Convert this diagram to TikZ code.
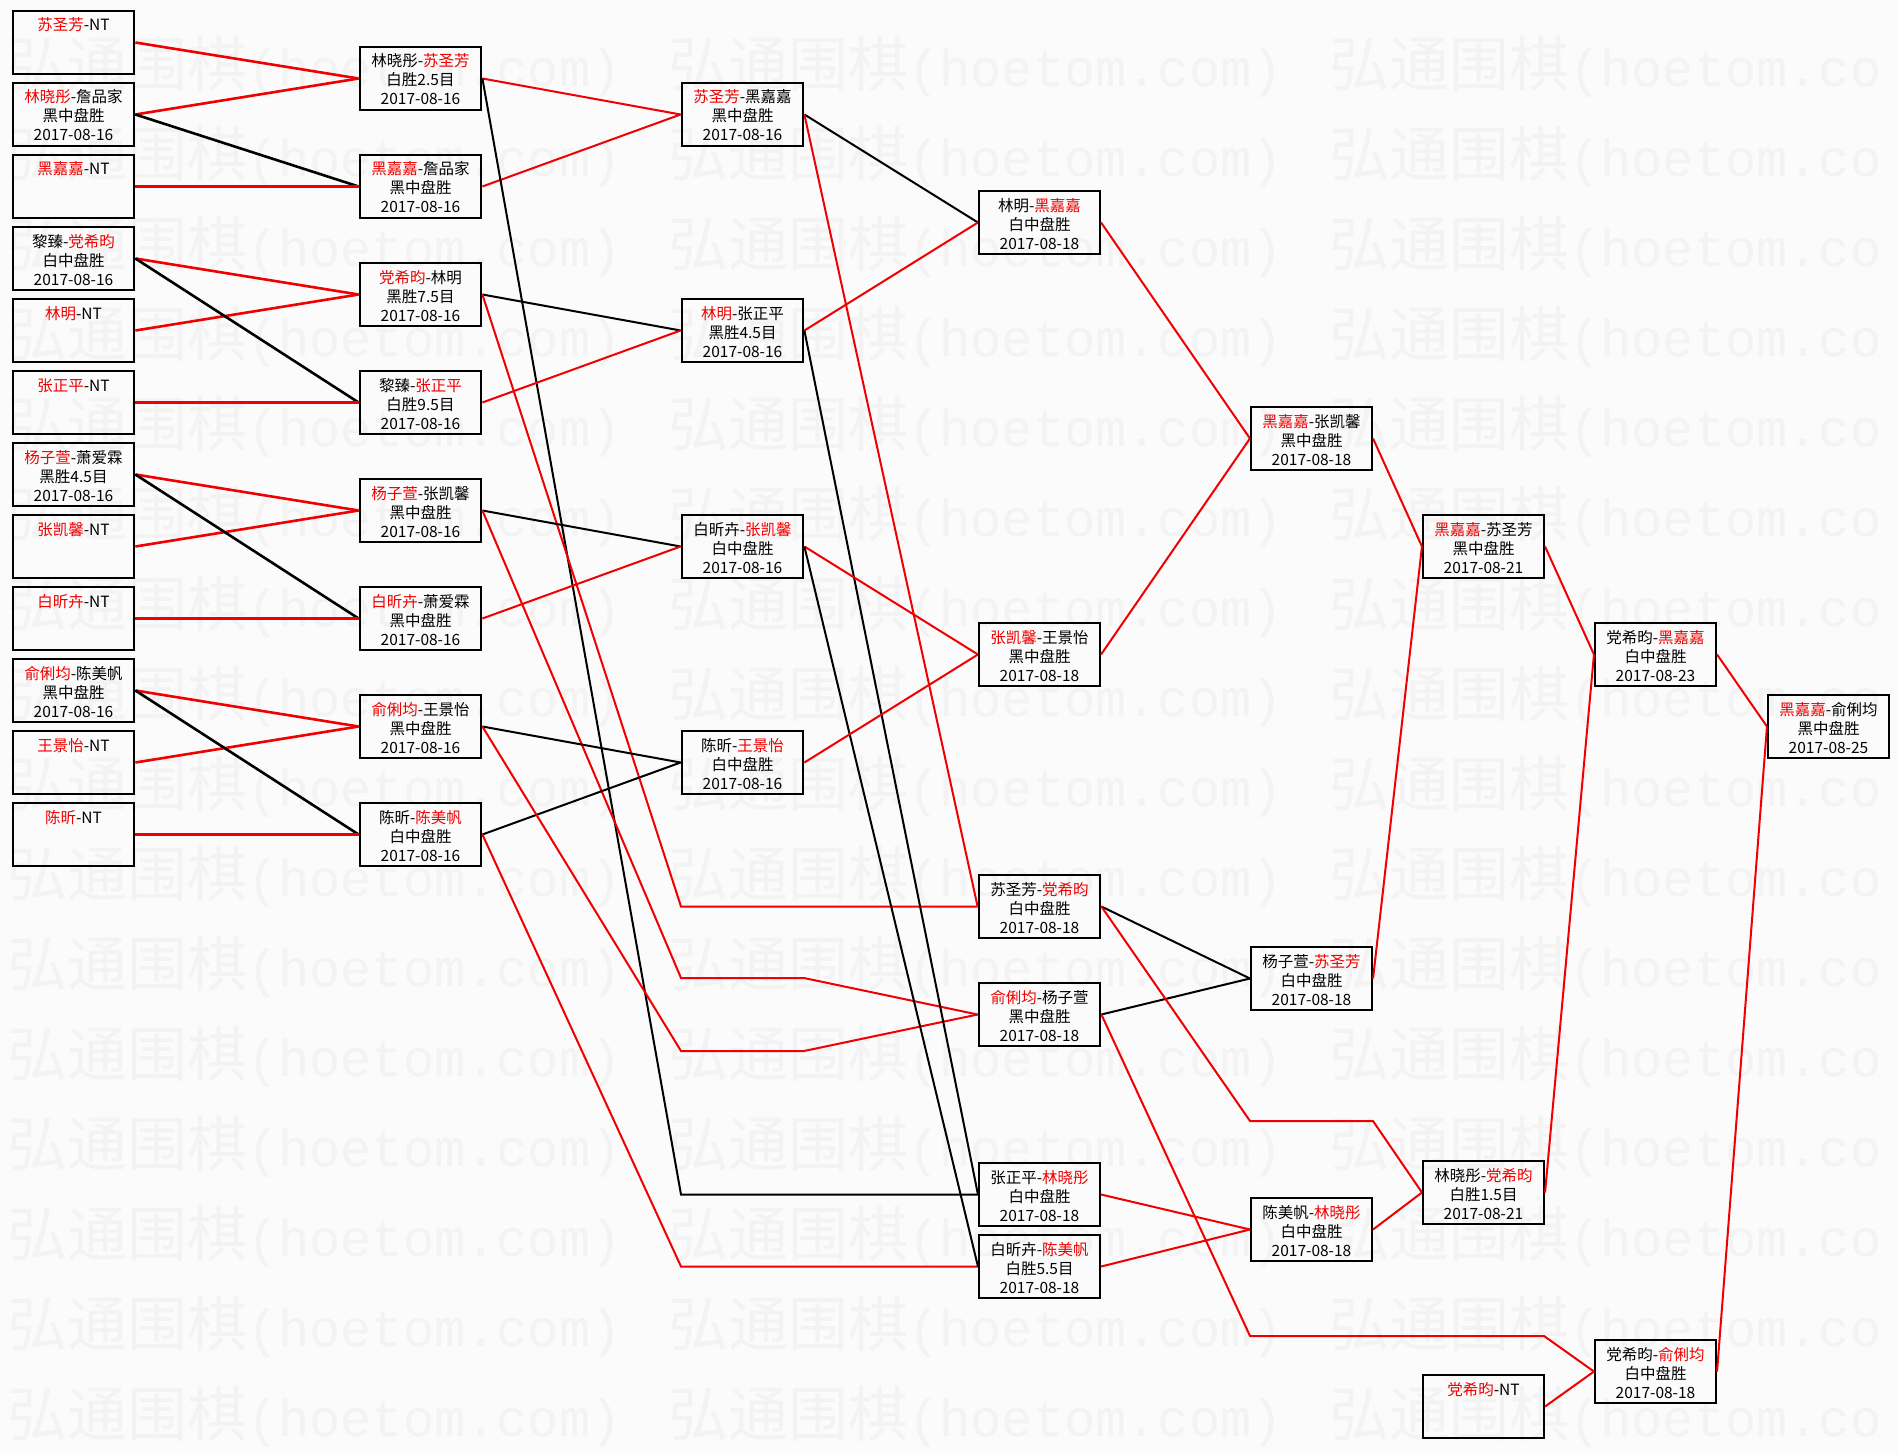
\documentclass[tikz,border=0pt]{standalone}
\usepackage{fontspec}
\setmainfont{Noto Sans CJK SC}
\newfontfamily\wmmono{Liberation Mono}
\definecolor{wred}{RGB}{240,0,0}
\definecolor{wmgray}{RGB}{243,243,243}
\definecolor{bgc}{RGB}{251,251,251}
\newcommand\rn[1]{\textcolor{wred}{#1}}
\newcommand\gm[3]{\parbox[c][63pt][t]{121pt}{\centering\fontsize{15.5}{19}\selectfont\rule{0pt}{20pt}#1\\#2\\#3}}
\newcommand\ntx[1]{\parbox[c][63pt][t]{121pt}{\centering\fontsize{15.5}{19}\selectfont\rule{0pt}{20pt}#1}}
\newcommand\wmtext[1]{{\fontsize{60}{60}\selectfont 弘通围棋}{\wmmono\fontsize{52}{52}\selectfont #1}}
\tikzset{
  boxa/.style={draw=black, line width=2.8pt, rectangle, inner sep=0pt},
  boxb/.style={draw=black, line width=2.1pt, rectangle, inner sep=0pt},
  rl/.style={draw=wred, line width=2pt, line join=miter},
  bl/.style={draw=black, line width=2pt, line join=miter},
  rlt/.style={draw=wred, line width=2.6pt},
  blt/.style={draw=black, line width=2.6pt},
  wmk/.style={text=wmgray, anchor=west, inner sep=0pt}
}
\begin{document}
\begin{tikzpicture}[x=1pt,y=-1pt]
\fill[bgc] (0,0) rectangle (1898,1453);
\useasboundingbox (0,0) rectangle (1898,1453);
% watermark
\foreach \k in {0,...,15}{
  \node[wmk] (wm-\k-0) at (7,{67+90*\k}) {\wmtext{(hoetom.com)}};
  \node[wmk] (wm-\k-1) at (668,{67+90*\k}) {\wmtext{(hoetom.com)}};
  \node[wmk] (wm-\k-2) at (1329,{67+90*\k}) {\wmtext{(hoetom.co}};
}
% column 1
\node[boxa] (c1a) at (73.5,42.5)  {\ntx{\rn{苏圣芳}-NT}};
\node[boxa] (c1b) at (73.5,114.5) {\gm{\rn{林晓彤}-詹品家}{黑中盘胜}{2017-08-16}};
\node[boxa] (c1c) at (73.5,186.5) {\ntx{\rn{黑嘉嘉}-NT}};
\node[boxa] (c1d) at (73.5,258.5) {\gm{黎臻-\rn{党希昀}}{白中盘胜}{2017-08-16}};
\node[boxa] (c1e) at (73.5,330.5) {\ntx{\rn{林明}-NT}};
\node[boxa] (c1f) at (73.5,402.5) {\ntx{\rn{张正平}-NT}};
\node[boxa] (c1g) at (73.5,474.5) {\gm{\rn{杨子萱}-萧爱霖}{黑胜4.5目}{2017-08-16}};
\node[boxa] (c1h) at (73.5,546.5) {\ntx{\rn{张凯馨}-NT}};
\node[boxa] (c1i) at (73.5,618.5) {\ntx{\rn{白昕卉}-NT}};
\node[boxa] (c1j) at (73.5,690.5) {\gm{\rn{俞俐均}-陈美帆}{黑中盘胜}{2017-08-16}};
\node[boxa] (c1k) at (73.5,762.5) {\ntx{\rn{王景怡}-NT}};
\node[boxa] (c1l) at (73.5,834.5) {\ntx{\rn{陈昕}-NT}};
% column 2
\node[boxa] (c2a) at (420.5,78.5)  {\gm{林晓彤-\rn{苏圣芳}}{白胜2.5目}{2017-08-16}};
\node[boxa] (c2b) at (420.5,186.5) {\gm{\rn{黑嘉嘉}-詹品家}{黑中盘胜}{2017-08-16}};
\node[boxa] (c2c) at (420.5,294.5) {\gm{\rn{党希昀}-林明}{黑胜7.5目}{2017-08-16}};
\node[boxa] (c2d) at (420.5,402.5) {\gm{黎臻-\rn{张正平}}{白胜9.5目}{2017-08-16}};
\node[boxa] (c2e) at (420.5,510.5) {\gm{\rn{杨子萱}-张凯馨}{黑中盘胜}{2017-08-16}};
\node[boxa] (c2f) at (420.5,618.5) {\gm{\rn{白昕卉}-萧爱霖}{黑中盘胜}{2017-08-16}};
\node[boxa] (c2g) at (420.5,726.5) {\gm{\rn{俞俐均}-王景怡}{黑中盘胜}{2017-08-16}};
\node[boxa] (c2h) at (420.5,834.5) {\gm{陈昕-\rn{陈美帆}}{白中盘胜}{2017-08-16}};
% column 3
\node[boxa] (c3a) at (742.5,114.5) {\gm{\rn{苏圣芳}-黑嘉嘉}{黑中盘胜}{2017-08-16}};
\node[boxa] (c3b) at (742.5,330.5) {\gm{\rn{林明}-张正平}{黑胜4.5目}{2017-08-16}};
\node[boxa] (c3c) at (742.5,546.5) {\gm{白昕卉-\rn{张凯馨}}{白中盘胜}{2017-08-16}};
\node[boxa] (c3d) at (742.5,762.5) {\gm{陈昕-\rn{王景怡}}{白中盘胜}{2017-08-16}};
% column 4
\node[boxb] (c4a) at (1039.5,222.5)  {\gm{林明-\rn{黑嘉嘉}}{白中盘胜}{2017-08-18}};
\node[boxb] (c4b) at (1039.5,654.5)  {\gm{\rn{张凯馨}-王景怡}{黑中盘胜}{2017-08-18}};
\node[boxa] (c4c) at (1039.5,906.5)  {\gm{苏圣芳-\rn{党希昀}}{白中盘胜}{2017-08-18}};
\node[boxa] (c4d) at (1039.5,1014.5) {\gm{\rn{俞俐均}-杨子萱}{黑中盘胜}{2017-08-18}};
\node[boxb] (c4e) at (1039.5,1194.5) {\gm{张正平-\rn{林晓彤}}{白中盘胜}{2017-08-18}};
\node[boxb] (c4f) at (1039.5,1266.5) {\gm{白昕卉-\rn{陈美帆}}{白胜5.5目}{2017-08-18}};
% column 5
\node[boxb] (c5a) at (1311.5,438.5)  {\gm{\rn{黑嘉嘉}-张凯馨}{黑中盘胜}{2017-08-18}};
\node[boxb] (c5b) at (1311.5,978.5)  {\gm{杨子萱-\rn{苏圣芳}}{白中盘胜}{2017-08-18}};
\node[boxb] (c5c) at (1311.5,1229.5) {\gm{陈美帆-\rn{林晓彤}}{白中盘胜}{2017-08-18}};
% column 6
\node[boxb] (c6a) at (1483.5,546.5)  {\gm{\rn{黑嘉嘉}-苏圣芳}{黑中盘胜}{2017-08-21}};
\node[boxb] (c6b) at (1483.5,1192.5) {\gm{林晓彤-\rn{党希昀}}{白胜1.5目}{2017-08-21}};
\node[boxb] (c6c) at (1483.5,1406.5) {\ntx{\rn{党希昀}-NT}};
% column 7
\node[boxb] (c7a) at (1655.5,654.5)  {\gm{党希昀-\rn{黑嘉嘉}}{白中盘胜}{2017-08-23}};
\node[boxb] (c7b) at (1655.5,1371.5) {\gm{党希昀-\rn{俞俐均}}{白中盘胜}{2017-08-18}};
% column 8
\node[boxb] (c8a) at (1828.5,726.5)  {\gm{\rn{黑嘉嘉}-俞俐均}{黑中盘胜}{2017-08-25}};
% connectors column 1 -> 2
\draw[rlt] (c1a.east) -- (c2a.west);
\draw[rlt] (c1b.east) -- (c2a.west);
\draw[blt] (c1b.east) -- (c2b.west);
\draw[rlt] (c1c.east) -- (c2b.west);
\draw[rlt] (c1d.east) -- (c2c.west);
\draw[rlt] (c1e.east) -- (c2c.west);
\draw[blt] (c1d.east) -- (c2d.west);
\draw[rlt] (c1f.east) -- (c2d.west);
\draw[rlt] (c1g.east) -- (c2e.west);
\draw[rlt] (c1h.east) -- (c2e.west);
\draw[blt] (c1g.east) -- (c2f.west);
\draw[rlt] (c1i.east) -- (c2f.west);
\draw[rlt] (c1j.east) -- (c2g.west);
\draw[rlt] (c1k.east) -- (c2g.west);
\draw[blt] (c1j.east) -- (c2h.west);
\draw[rlt] (c1l.east) -- (c2h.west);
% column 2 -> 3 / 4
\draw[rl] (c2a.east) -- (c3a.west);
\draw[rl] (c2b.east) -- (c3a.west);
\draw[bl] (c2a.east) -- (681,1194.5) -- (c4e.west);
\draw[bl] (c2c.east) -- (c3b.west);
\draw[rl] (c2d.east) -- (c3b.west);
\draw[rl] (c2c.east) -- (681,906.5) -- (c4c.west);
\draw[bl] (c2e.east) -- (c3c.west);
\draw[rl] (c2f.east) -- (c3c.west);
\draw[rl] (c2e.east) -- (681,978) -- (804,978) -- (c4d.west);
\draw[bl] (c2g.east) -- (c3d.west);
\draw[bl] (c2h.east) -- (c3d.west);
\draw[rl] (c2g.east) -- (681,1051) -- (804,1051) -- (c4d.west);
\draw[rl] (c2h.east) -- (681,1266.5) -- (c4f.west);
% column 3 -> 4
\draw[bl] (c3a.east) -- (c4a.west);
\draw[rl] (c3a.east) -- (c4c.west);
\draw[rl] (c3b.east) -- (c4a.west);
\draw[bl] (c3b.east) -- (c4e.west);
\draw[rl] (c3c.east) -- (c4b.west);
\draw[bl] (c3c.east) -- (c4f.west);
\draw[rl] (c3d.east) -- (c4b.west);
% column 4 -> 5 / 6 / 7
\draw[rl] (c4a.east) -- (c5a.west);
\draw[rl] (c4b.east) -- (c5a.west);
\draw[bl] (c4c.east) -- (c5b.west);
\draw[bl] (c4d.east) -- (c5b.west);
\draw[rl] (c4c.east) -- (1250,1121) -- (1373,1121) -- (c6b.west);
\draw[rl] (c4d.east) -- (1250,1336) -- (1544,1336) -- (c7b.west);
\draw[rl] (c4e.east) -- (c5c.west);
\draw[rl] (c4f.east) -- (c5c.west);
% column 5 -> 6
\draw[rl] (c5a.east) -- (c6a.west);
\draw[rl] (c5b.east) -- (c6a.west);
\draw[rl] (c5c.east) -- (c6b.west);
% column 6 -> 7
\draw[rl] (c6a.east) -- (c7a.west);
\draw[rl] (c6b.east) -- (c7a.west);
\draw[rl] (c6c.east) -- (c7b.west);
% column 7 -> 8
\draw[rl] (c7a.east) -- (c8a.west);
\draw[rl] (c7b.east) -- (c8a.west);
\end{tikzpicture}
\end{document}
